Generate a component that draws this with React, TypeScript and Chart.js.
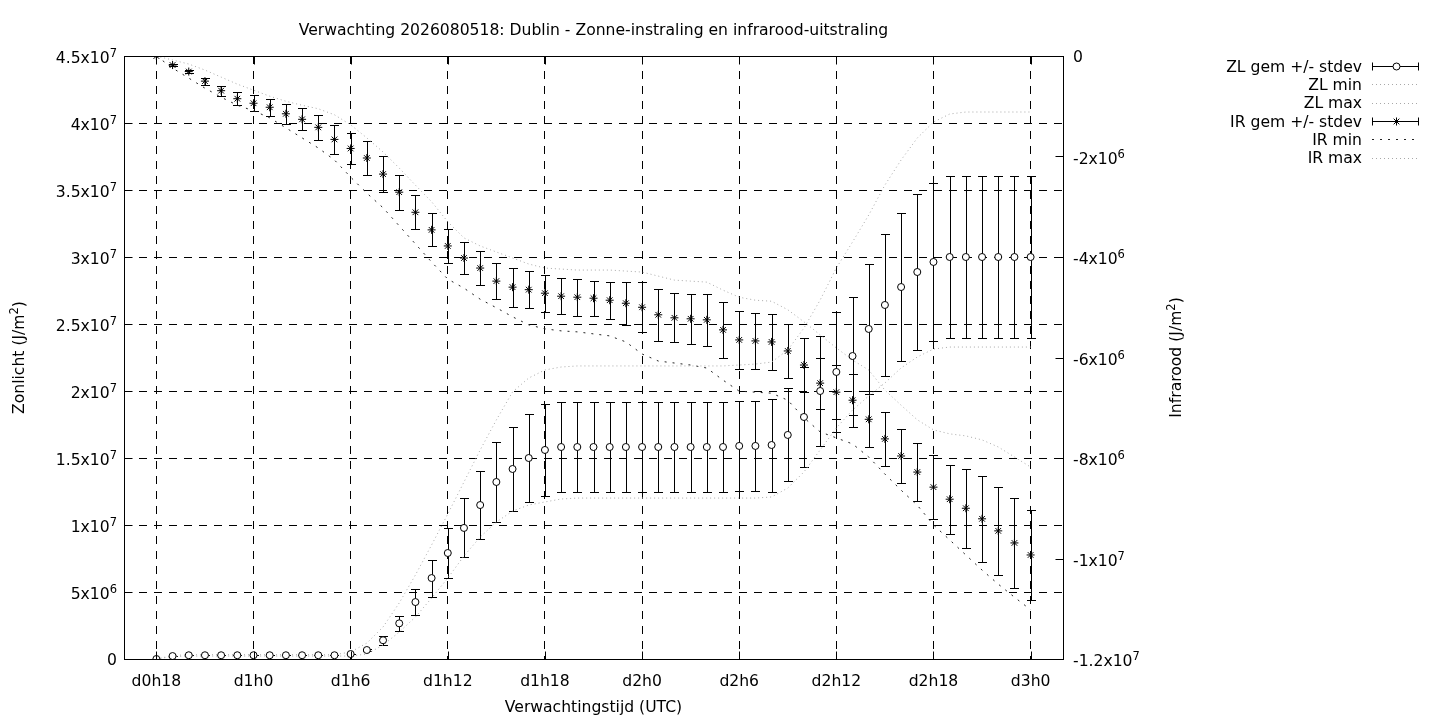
import React, { useEffect, useRef } from 'react';
import { Chart, registerables } from 'chart.js';

Chart.register(...registerables);

const chartTitle = 'Verwachting 2026080518: Dublin - Zonne-instraling en infrarood-uitstraling';
const xAxisTitle = 'Verwachtingstijd (UTC)';
const yAxisTitle = 'Zonlicht (J/m²)';
const y2AxisTitle = 'Infrarood (J/m²)';

// lead time in hours after d0h18
const leadHours = [
  0, 1, 2, 3, 4, 5, 6, 7, 8, 9, 10, 11, 12, 13, 14, 15, 16, 17, 18, 19,
  20, 21, 22, 23, 24, 25, 26, 27, 28, 29, 30, 31, 32, 33, 34, 35, 36, 37, 38, 39,
  40, 41, 42, 43, 44, 45, 46, 47, 48, 49, 50, 51, 52, 53, 54,
];

const xTickHours = [0, 6, 12, 18, 24, 30, 36, 42, 48, 54];
const xTickLabels = ['d0h18', 'd1h0', 'd1h6', 'd1h12', 'd1h18', 'd2h0', 'd2h6', 'd2h12', 'd2h18', 'd3h0'];

const zlTickValues = [0, 5e6, 1e7, 1.5e7, 2e7, 2.5e7, 3e7, 3.5e7, 4e7, 4.5e7];
const zlTickLabels = ['0', '5x10⁶', '1x10⁷', '1.5x10⁷', '2x10⁷', '2.5x10⁷', '3x10⁷', '3.5x10⁷', '4x10⁷', '4.5x10⁷'];

const irTickValues = [-1.2e7, -1e7, -8e6, -6e6, -4e6, -2e6, 0];
const irTickLabels = ['-1.2x10⁷', '-1x10⁷', '-8x10⁶', '-6x10⁶', '-4x10⁶', '-2x10⁶', '0'];

const legendLabels = ['ZL gem +/- stdev', 'ZL min', 'ZL max', 'IR gem +/- stdev', 'IR min', 'IR max'];

// Zonlicht (J/m2)
const zlMean = [
  0, 2.2e5, 2.8e5, 2.8e5, 2.8e5, 2.8e5, 2.8e5, 2.8e5, 2.8e5, 2.8e5,
  2.8e5, 2.8e5, 3.7e5, 6.7e5, 1.4e6, 2.66e6, 4.25e6, 6.04e6, 7.91e6, 9.78e6,
  1.149e7, 1.321e7, 1.418e7, 1.5e7, 1.56e7, 1.582e7, 1.582e7, 1.582e7, 1.582e7, 1.582e7,
  1.582e7, 1.582e7, 1.582e7, 1.582e7, 1.582e7, 1.582e7, 1.59e7, 1.59e7, 1.597e7, 1.672e7,
  1.806e7, 2.0e7, 2.142e7, 2.261e7, 2.463e7, 2.642e7, 2.776e7, 2.888e7, 2.963e7, 3.0e7,
  3.0e7, 3.0e7, 3.0e7, 3.0e7, 3.0e7,
];
const zlStdev = [
  0, 1e4, 1e4, 1e4, 1e4, 1e4, 1e4, 1e4, 1e4, 1e4,
  1e4, 1e4, 3e4, 1.1e5, 3.4e5, 5.6e5, 9.7e5, 1.38e6, 1.87e6, 2.2e6,
  2.57e6, 2.95e6, 3.17e6, 3.28e6, 3.4e6, 3.36e6, 3.36e6, 3.36e6, 3.36e6, 3.36e6,
  3.36e6, 3.36e6, 3.36e6, 3.36e6, 3.36e6, 3.36e6, 3.36e6, 3.36e6, 3.47e6, 3.47e6,
  3.73e6, 4.1e6, 4.48e6, 4.4e6, 4.85e6, 5.3e6, 5.52e6, 5.82e6, 5.9e6, 6.04e6,
  6.04e6, 6.04e6, 6.04e6, 6.04e6, 6.04e6,
];
const zlMin = [
  0, 1.8e5, 2.2e5, 2.2e5, 2.2e5, 2.2e5, 2.2e5, 2.2e5, 2.2e5, 2.2e5,
  2.2e5, 2.2e5, 2.2e5, 3.7e5, 1.04e6, 2.01e6, 3.13e6, 4.55e6, 6.04e6, 7.69e6,
  9.1e6, 1.022e7, 1.104e7, 1.149e7, 1.172e7, 1.194e7, 1.201e7, 1.201e7, 1.201e7, 1.201e7,
  1.201e7, 1.201e7, 1.201e7, 1.201e7, 1.201e7, 1.201e7, 1.201e7, 1.201e7, 1.209e7, 1.276e7,
  1.396e7, 1.56e7, 1.724e7, 1.858e7, 1.963e7, 2.06e7, 2.172e7, 2.254e7, 2.313e7, 2.328e7,
  2.328e7, 2.328e7, 2.328e7, 2.328e7, 2.328e7,
];
const zlMax = [
  0, 2.6e5, 3.2e5, 3.2e5, 3.2e5, 3.2e5, 3.2e5, 3.2e5, 3.2e5, 3.2e5,
  3.2e5, 3.2e5, 5.2e5, 1.19e6, 2.39e6, 4.18e6, 6.27e6, 8.51e6, 1.082e7, 1.321e7,
  1.56e7, 1.784e7, 1.993e7, 2.097e7, 2.157e7, 2.179e7, 2.187e7, 2.187e7, 2.187e7, 2.187e7,
  2.187e7, 2.187e7, 2.187e7, 2.187e7, 2.187e7, 2.187e7, 2.194e7, 2.201e7, 2.216e7, 2.306e7,
  2.47e7, 2.679e7, 2.918e7, 3.112e7, 3.313e7, 3.537e7, 3.724e7, 3.888e7, 4.007e7, 4.067e7,
  4.082e7, 4.082e7, 4.082e7, 4.082e7, 4.082e7,
];

// Infrarood (J/m2)
const irMean = [
  0, -1.8e5, -3.1e5, -5.0e5, -6.9e5, -8.5e5, -9.4e5, -1.02e6, -1.15e6, -1.26e6,
  -1.42e6, -1.66e6, -1.84e6, -2.03e6, -2.35e6, -2.71e6, -3.11e6, -3.46e6, -3.78e6, -4.02e6,
  -4.22e6, -4.48e6, -4.6e6, -4.65e6, -4.72e6, -4.78e6, -4.8e6, -4.82e6, -4.86e6, -4.92e6,
  -5.0e6, -5.15e6, -5.21e6, -5.23e6, -5.25e6, -5.45e6, -5.65e6, -5.67e6, -5.69e6, -5.87e6,
  -6.15e6, -6.51e6, -6.69e6, -6.85e6, -7.23e6, -7.62e6, -7.96e6, -8.28e6, -8.58e6, -8.82e6,
  -9.0e6, -9.21e6, -9.45e6, -9.69e6, -9.93e6,
];
const irStdev = [
  0, 2e4, 3e4, 7e4, 1.0e5, 1.3e5, 1.6e5, 1.7e5, 2.0e5, 2.2e5,
  2.5e5, 2.9e5, 3.1e5, 3.4e5, 3.6e5, 3.5e5, 3.4e5, 3.3e5, 3.3e5, 3.2e5,
  3.4e5, 3.6e5, 3.9e5, 3.7e5, 3.7e5, 3.6e5, 3.7e5, 3.5e5, 3.7e5, 4.3e5,
  5.0e5, 5.2e5, 4.9e5, 5.0e5, 5.2e5, 5.6e5, 5.7e5, 5.6e5, 5.5e5, 5.3e5,
  5.4e5, 5.1e5, 5.4e5, 5.3e5, 5.6e5, 5.4e5, 5.4e5, 5.8e5, 6.3e5, 6.9e5,
  7.9e5, 8.6e5, 8.8e5, 8.9e5, 8.9e5,
];
const irMin = [
  0, -2.4e5, -4.4e5, -6.4e5, -8.2e5, -9.8e5, -1.09e6, -1.23e6, -1.43e6, -1.63e6,
  -1.83e6, -2.07e6, -2.41e6, -2.73e6, -3.02e6, -3.38e6, -3.74e6, -4.1e6, -4.44e6, -4.62e6,
  -4.84e6, -5.01e6, -5.19e6, -5.35e6, -5.43e6, -5.47e6, -5.49e6, -5.53e6, -5.57e6, -5.69e6,
  -5.93e6, -6.07e6, -6.11e6, -6.15e6, -6.21e6, -6.45e6, -6.67e6, -6.69e6, -6.71e6, -6.85e6,
  -7.2e6, -7.48e6, -7.6e6, -7.72e6, -7.98e6, -8.32e6, -8.64e6, -8.94e6, -9.33e6, -9.63e6,
  -9.93e6, -1.023e7, -1.051e7, -1.077e7, -1.102e7,
];
const irMax = [
  0, -8e4, -1.6e5, -2.8e5, -4.2e5, -5.6e5, -6.8e5, -8.0e5, -9.0e5, -9.8e5,
  -1.05e6, -1.17e6, -1.37e6, -1.63e6, -1.91e6, -2.23e6, -2.57e6, -2.9e6, -3.3e6, -3.62e6,
  -3.78e6, -3.9e6, -4.02e6, -4.14e6, -4.22e6, -4.24e6, -4.26e6, -4.26e6, -4.26e6, -4.28e6,
  -4.3e6, -4.38e6, -4.46e6, -4.48e6, -4.5e6, -4.66e6, -4.8e6, -4.86e6, -4.88e6, -5.05e6,
  -5.29e6, -5.55e6, -5.81e6, -6.05e6, -6.25e6, -6.65e6, -6.95e6, -7.24e6, -7.44e6, -7.52e6,
  -7.56e6, -7.64e6, -7.78e6, -7.98e6, -8.18e6,
];

const FONT_FAMILY = 'DejaVu Sans';
const FONT_SIZE = 15.6;
const SUP_SIZE = 11.5;
const SUP_RAISE = 6.3;
const GRID_DASH = [8, 7];
const LIGHT = '#a8a8a8';
const DARK = '#222222';
const SUP_CHARS = '⁰¹²³⁴⁵⁶⁷⁸⁹';

const pts = (vals: number[]) => vals.map((v, i) => ({ x: leadHours[i], y: v }));

const splitSup = (text: string) => {
  const out: { t: string; sup: boolean }[] = [];
  let cur = '';
  let curSup = false;
  for (const ch of text) {
    const k = SUP_CHARS.indexOf(ch);
    const isSup = k >= 0;
    if (isSup !== curSup && cur) {
      out.push({ t: cur, sup: curSup });
      cur = '';
    }
    curSup = isSup;
    cur += isSup ? String(k) : ch;
  }
  if (cur) out.push({ t: cur, sup: curSup });
  return out;
};

// draws text with gnuplot-like enhanced superscripts; y is the alphabetic baseline
const drawRich = (ctx: CanvasRenderingContext2D, text: string, x: number, y: number, align: string) => {
  const segs = splitSup(text);
  const widths = segs.map((s) => {
    ctx.font = `${s.sup ? SUP_SIZE : FONT_SIZE}px "${FONT_FAMILY}"`;
    return ctx.measureText(s.t).width;
  });
  const total = widths.reduce((a, b) => a + b, 0);
  let sx = align === 'right' ? x - total : align === 'center' ? x - total / 2 : x;
  ctx.textAlign = 'left';
  ctx.textBaseline = 'alphabetic';
  segs.forEach((s, i) => {
    ctx.font = `${s.sup ? SUP_SIZE : FONT_SIZE}px "${FONT_FAMILY}"`;
    ctx.fillText(s.t, sx, s.sup ? y - SUP_RAISE : y);
    sx += widths[i];
  });
};

const drawStar = (ctx: CanvasRenderingContext2D, x: number, y: number, r: number) => {
  const d = r * Math.SQRT1_2;
  ctx.beginPath();
  ctx.moveTo(x - r, y); ctx.lineTo(x + r, y);
  ctx.moveTo(x, y - r); ctx.lineTo(x, y + r);
  ctx.moveTo(x - d, y - d); ctx.lineTo(x + d, y + d);
  ctx.moveTo(x - d, y + d); ctx.lineTo(x + d, y - d);
  ctx.stroke();
};

const overlayPlugin = {
  id: 'gnuplotOverlay',
  beforeDatasetsDraw(chart: any) {
    const { ctx, scales } = chart;
    const xs = scales.x;
    ctx.save();
    ctx.strokeStyle = '#000';
    ctx.lineWidth = 1;
    ctx.setLineDash([]);
    const bars = (mean: number[], sd: number[], ys: any) => {
      for (let i = 0; i < mean.length; i++) {
        const px = Math.round(xs.getPixelForValue(leadHours[i])) + 0.5;
        const top = Math.round(ys.getPixelForValue(mean[i] + sd[i])) + 0.5;
        const bot = Math.round(ys.getPixelForValue(mean[i] - sd[i])) + 0.5;
        ctx.beginPath();
        ctx.moveTo(px, top); ctx.lineTo(px, bot);
        ctx.moveTo(px - 4.5, top); ctx.lineTo(px + 4.5, top);
        ctx.moveTo(px - 4.5, bot); ctx.lineTo(px + 4.5, bot);
        ctx.stroke();
      }
    };
    bars(zlMean, zlStdev, scales.y);
    bars(irMean, irStdev, scales.y2);
    ctx.restore();
  },
  afterDraw(chart: any) {
    const { ctx, chartArea: a, scales } = chart;
    ctx.save();
    ctx.fillStyle = '#000';
    ctx.strokeStyle = '#000';
    ctx.lineWidth = 1;
    ctx.setLineDash([]);
    const L = Math.round(a.left) + 0.5;
    const R = Math.round(a.right) + 0.5;
    const T = Math.round(a.top) + 0.5;
    const B = Math.round(a.bottom) + 0.5;
    // frame
    ctx.strokeRect(L, T, R - L, B - T);
    // inward tics
    ctx.beginPath();
    irTickValues.forEach((v) => {
      const py = Math.round(scales.y2.getPixelForValue(v)) + 0.5;
      ctx.moveTo(R - 8, py); ctx.lineTo(R, py);
    });
    zlTickValues.forEach((v) => {
      const py = Math.round(scales.y.getPixelForValue(v)) + 0.5;
      ctx.moveTo(L, py); ctx.lineTo(L + 8, py);
    });
    xTickHours.forEach((v) => {
      const px = Math.round(scales.x.getPixelForValue(v)) + 0.5;
      ctx.moveTo(px, B); ctx.lineTo(px, B - 8);
      ctx.moveTo(px, T); ctx.lineTo(px, T + 8);
    });
    ctx.stroke();

    // y tick labels
    zlTickValues.forEach((v, i) => {
      const lab = zlTickLabels[i];
      const py = scales.y.getPixelForValue(v);
      const hasSup = splitSup(lab).some((s) => s.sup);
      drawRich(ctx, lab, 117, py + (hasSup ? 7.3 : 6.3), 'right');
    });
    irTickValues.forEach((v, i) => {
      const lab = irTickLabels[i];
      const py = scales.y2.getPixelForValue(v);
      const hasSup = splitSup(lab).some((s) => s.sup);
      drawRich(ctx, lab, R + 9.5, py + (hasSup ? 7.3 : 6.3), 'left');
    });

    // titles
    const cx = (a.left + a.right) / 2;
    const cy = (a.top + a.bottom) / 2;
    drawRich(ctx, chartTitle, cx, 34.7, 'center');
    drawRich(ctx, xAxisTitle, cx, 711.5, 'center');
    ctx.save();
    ctx.translate(13, cy);
    ctx.rotate(-Math.PI / 2);
    drawRich(ctx, yAxisTitle, 0, 11, 'center');
    ctx.restore();
    ctx.save();
    ctx.translate(1170, cy);
    ctx.rotate(-Math.PI / 2);
    drawRich(ctx, y2AxisTitle, 0, 11, 'center');
    ctx.restore();

    // legend
    const ds = chart.data.datasets;
    const x0 = 1372;
    const x1 = 1419;
    ds.forEach((d: any, i: number) => {
      const yc = 66 + 18.3 * i;
      ctx.fillStyle = '#000';
      drawRich(ctx, d.label, 1362, yc + 5.7, 'right');
      const py = Math.round(yc) + 0.5;
      ctx.lineWidth = 1;
      if (d.showLine === false) {
        ctx.strokeStyle = '#000';
        ctx.setLineDash([]);
        ctx.beginPath();
        ctx.moveTo(x0, py); ctx.lineTo(x1, py);
        ctx.moveTo(x0 + 0.5, py - 4); ctx.lineTo(x0 + 0.5, py + 4);
        ctx.moveTo(x1 - 0.5, py - 4); ctx.lineTo(x1 - 0.5, py + 4);
        ctx.stroke();
        const mx = Math.round((x0 + x1) / 2) + 0.5;
        if (d.pointStyle === 'circle') {
          ctx.beginPath();
          ctx.arc(mx, py, 3.5, 0, Math.PI * 2);
          ctx.fillStyle = '#fff';
          ctx.fill();
          ctx.stroke();
        } else {
          drawStar(ctx, mx, py, 4);
        }
      } else {
        ctx.strokeStyle = d.borderColor;
        ctx.setLineDash(d.borderDash);
        ctx.beginPath();
        ctx.moveTo(x0, py); ctx.lineTo(x1, py);
        ctx.stroke();
      }
    });
    ctx.restore();
  },
};

export default function App() {
  const ref = useRef<HTMLCanvasElement>(null);

  useEffect(() => {
    const canvas = ref.current;
    if (!canvas) return;
    const font = { family: FONT_FAMILY, size: FONT_SIZE };
    const lineDs = (label: string, vals: number[], axis: string, color: string, dash: number[]) => ({
      label,
      data: pts(vals),
      yAxisID: axis,
      showLine: true,
      borderColor: color,
      borderWidth: 1,
      borderDash: dash,
      pointRadius: 0,
      tension: 0,
      fill: false,
    });
    const chart = new Chart(canvas, {
      type: 'scatter',
      data: {
        datasets: [
          {
            label: legendLabels[0],
            data: pts(zlMean),
            yAxisID: 'y',
            showLine: false,
            pointStyle: 'circle',
            pointRadius: 3.5,
            pointBorderWidth: 1,
            borderColor: '#000',
            backgroundColor: '#fff',
          },
          lineDs(legendLabels[1], zlMin, 'y', LIGHT, [1, 3]),
          lineDs(legendLabels[2], zlMax, 'y', LIGHT, [1, 3]),
          {
            label: legendLabels[3],
            data: pts(irMean),
            yAxisID: 'y2',
            showLine: false,
            pointStyle: 'star',
            pointRadius: 4,
            pointBorderWidth: 1,
            borderColor: '#000',
            backgroundColor: '#000',
          },
          lineDs(legendLabels[4], irMin, 'y2', DARK, [2, 6]),
          lineDs(legendLabels[5], irMax, 'y2', LIGHT, [1, 3]),
        ] as any,
      },
      options: {
        responsive: false,
        animation: false,
        events: [],
        layout: { padding: { top: 56, left: 0, right: 0, bottom: 0 } },
        plugins: {
          legend: { display: false },
          title: { display: false },
          tooltip: { enabled: false },
        },
        scales: {
          x: {
            type: 'linear',
            min: -2,
            max: 56,
            afterBuildTicks: (s: any) => {
              s.ticks = xTickHours.map((v) => ({ value: v }));
            },
            afterFit: (s: any) => {
              s.height = 61;
            },
            ticks: {
              callback: (_v: any, i: number) => xTickLabels[i],
              padding: 14,
              maxRotation: 0,
              autoSkip: false,
              color: '#000',
              font,
            },
            grid: { color: '#000', lineWidth: 1, drawTicks: false },
            border: { display: false, dash: GRID_DASH },
          },
          y: {
            type: 'linear',
            position: 'left',
            min: 0,
            max: 4.5e7,
            afterBuildTicks: (s: any) => {
              s.ticks = zlTickValues.map((v) => ({ value: v }));
            },
            afterFit: (s: any) => {
              s.width = 124;
            },
            ticks: {
              display: false,
              callback: (_v: any, i: number) => zlTickLabels[i],
              autoSkip: false,
              font,
            },
            grid: { color: '#000', lineWidth: 1, drawTicks: false },
            border: { display: false, dash: GRID_DASH },
          },
          y2: {
            type: 'linear',
            position: 'right',
            min: -1.2e7,
            max: 0,
            afterBuildTicks: (s: any) => {
              s.ticks = irTickValues.map((v) => ({ value: v }));
            },
            afterFit: (s: any) => {
              s.width = 377;
            },
            ticks: {
              display: false,
              callback: (_v: any, i: number) => irTickLabels[i],
              autoSkip: false,
              font,
            },
            grid: { display: false, drawTicks: false },
            border: { display: false },
          },
        },
      } as any,
      plugins: [overlayPlugin],
    });
    return () => chart.destroy();
  }, []);

  return (
    <div style={{ position: 'fixed', left: 0, top: 0, width: 1440, height: 720, background: '#fff' }}>
      <canvas ref={ref} width={1440} height={720} style={{ display: 'block', width: 1440, height: 720 }} />
    </div>
  );
}
